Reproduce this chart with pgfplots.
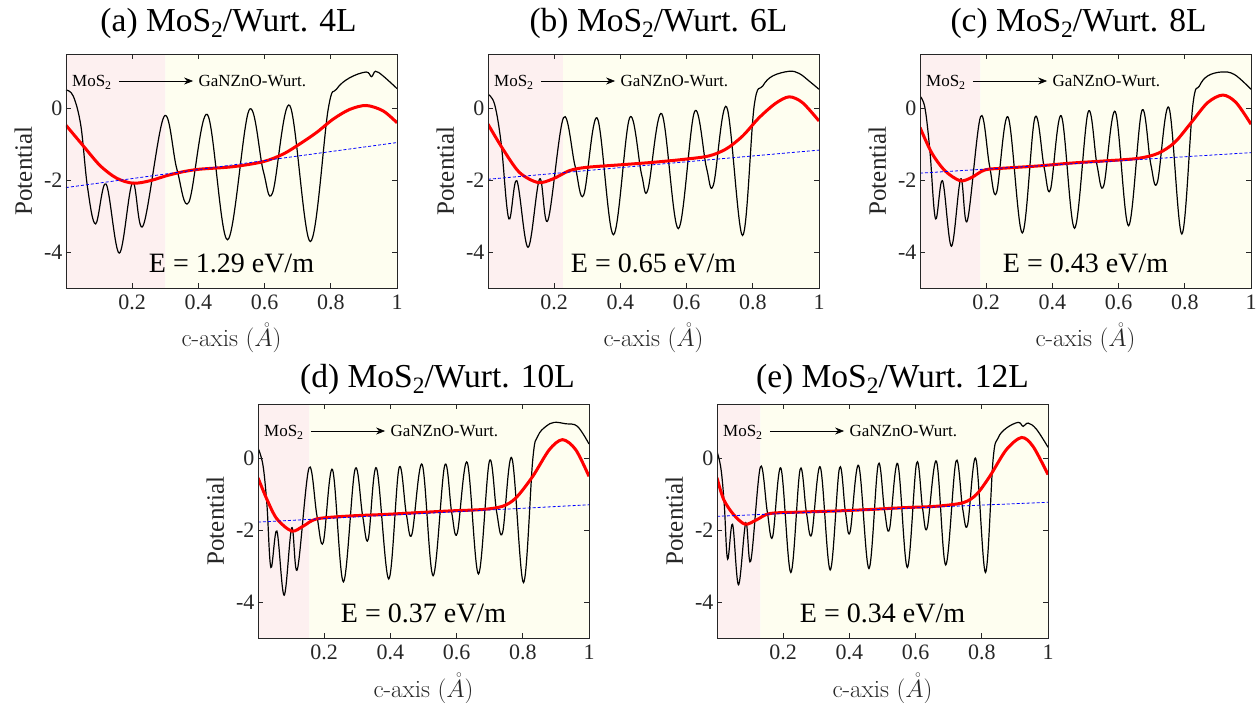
\documentclass[border=0pt]{standalone}
\usepackage{pgfplots}
\pgfplotsset{compat=1.18}
\usepackage{fontspec}
\usepackage{graphicx}
\usetikzlibrary{arrows.meta}
\newfontfamily\tnr{Liberation Serif}
\definecolor{bgpink}{RGB}{253,240,240}
\definecolor{bgyellow}{RGB}{254,254,240}
\definecolor{axgray}{RGB}{38,38,38}
\newcommand\sub[1]{\raisebox{-0.45ex}{\scalebox{0.7}{#1}}}

\pgfplotsset{
  panel/.style={
    scale only axis, width=331pt, height=234pt,
    xmin=0, xmax=1, ymin=-5, ymax=1.5,
    xtick={0.2,0.4,0.6,0.8,1}, ytick={-4,-2,0},
    axis on top,
    axis line style={axgray, line width=0.9pt},
    major tick style={axgray, line width=0.9pt},
    major tick length=5pt,
    /pgf/number format/assume math mode=true,
    ticklabel style={font=\tnr\fontsize{22}{24}\selectfont, text=axgray},
    xticklabel style={yshift=-3pt},
    xlabel={c-axis $(\mathring{A})$},
    xlabel style={font=\fontsize{25}{27}\selectfont, text=black!85,
      at={(axis description cs:0.5,0)}, anchor=base, yshift=-59pt},
    ylabel={Potential},
    ylabel style={font=\tnr\fontsize{25}{27}\selectfont, text=axgray,
      at={(axis description cs:-0.103,0.5)}, anchor=base},
    title style={font=\tnr\fontsize{33.5}{36}\selectfont, anchor=base,
      at={(axis description cs:0.5,1)}},
  },
  blk/.style={black, line width=1.2pt, smooth, tension=0.6},
  rd/.style={red, line width=3pt, smooth},
  bl/.style={blue, line width=0.8pt, dash pattern=on 3pt off 2pt},
}
\newcommand\annot{%
  \node[anchor=base west, font=\tnr\fontsize{17}{19}\selectfont, inner sep=0]
    at (axis cs:0.018,0.61) {MoS\sub{2}};
  \draw[-{Stealth[length=9pt,width=7pt]}, line width=0.7pt]
    (axis cs:0.16,0.75) -- (axis cs:0.384,0.75);
  \node[anchor=base west, font=\tnr\fontsize{17}{19}\selectfont, inner sep=0]
    at (axis cs:0.40,0.61) {GaNZnO-Wurt.};
}
\newcommand\efield[1]{%
  \node[anchor=base, font=\tnr\fontsize{28}{30}\selectfont]
    at (axis cs:0.5,-4.58) {#1};
}

\begin{document}
\begin{tikzpicture}
\useasboundingbox (0pt,0pt) rectangle (1258pt,702pt);

% (a) 4L
\begin{axis}[panel, at={(66pt,414pt)}, anchor=south west,
  title={(a) MoS\sub{2}/Wurt. 4L}, title style={yshift=17pt, xshift=-3pt}]
\addplot[draw=none, fill=bgpink] coordinates {(0,-5) (0.3,-5) (0.3,1.5) (0,1.5) (0,-5)};
\addplot[draw=none, fill=bgyellow] coordinates {(0.3,-5) (1,-5) (1,1.5) (0.3,1.5) (0.3,-5)};
\addplot[blk] coordinates {
(0,0.5) (0.022,0.33) (0.045,-0.5) (0.065,-2.2) (0.0895,-3.22) (0.121,-2.11)
(0.161,-4.03) (0.201,-2.07) (0.233,-3.27) (0.296,-0.24) (0.335,-1.7)
(0.371,-2.62) (0.427,-0.18) (0.488,-3.66) (0.553,-0.06) (0.596,-1.75)
(0.624,-2.36) (0.676,0.07) (0.738,-3.71) (0.792,-0.04) (0.817,0.52)
(0.857,0.84) (0.907,1.0) (0.923,0.87) (0.935,1.02) (0.958,0.89) (1,0.54)};
\addplot[rd] coordinates {
(0,-0.48) (0.052,-1.05) (0.103,-1.6) (0.153,-1.95) (0.203,-2.09) (0.254,-2.02)
(0.304,-1.88) (0.354,-1.77) (0.404,-1.70) (0.505,-1.63) (0.596,-1.49)
(0.656,-1.28) (0.706,-1.0) (0.757,-0.68) (0.807,-0.31) (0.857,-0.04)
(0.907,0.07) (0.958,-0.08) (1,-0.41)};
\addplot[bl] coordinates {(0,-2.21) (1,-0.96)};
\annot
\efield{E = 1.29 eV/m}
\end{axis}

% (b) 6L
\begin{axis}[panel, at={(488pt,414pt)}, anchor=south west,
  title={(b) MoS\sub{2}/Wurt. 6L}, title style={yshift=17pt, xshift=5pt}]
\addplot[draw=none, fill=bgpink] coordinates {(0,-5) (0.227,-5) (0.227,1.5) (0,1.5) (0,-5)};
\addplot[draw=none, fill=bgyellow] coordinates {(0.227,-5) (1,-5) (1,1.5) (0.227,1.5) (0.227,-5)};
\addplot[blk] coordinates {
(0,0.38) (0.02,0.1) (0.04,-1.0) (0.063,-3.08) (0.087,-2.02) (0.121,-3.87)
(0.156,-1.97) (0.181,-3.12) (0.228,-0.27) (0.263,-1.61) (0.289,-2.42)
(0.330,-0.28) (0.379,-3.52) (0.428,-0.27) (0.464,-1.85) (0.483,-2.27)
(0.525,-0.16) (0.575,-3.35) (0.624,-0.10) (0.66,-1.66) (0.681,-2.14)
(0.721,0.03) (0.769,-3.54) (0.804,0.05) (0.83,0.61) (0.86,0.89) (0.91,1.02)
(0.94,0.96) (0.97,0.75) (1,0.52)};
\addplot[rd] coordinates {
(0,-0.45) (0.045,-1.14) (0.095,-1.79) (0.151,-2.07) (0.196,-1.97) (0.246,-1.74)
(0.296,-1.65) (0.397,-1.58) (0.497,-1.51) (0.598,-1.42) (0.668,-1.33)
(0.719,-1.14) (0.769,-0.78) (0.819,-0.27) (0.869,0.13) (0.91,0.31)
(0.95,0.15) (1,-0.36)};
\addplot[bl] coordinates {(0,-1.98) (1,-1.17)};
\annot
\efield{E = 0.65 eV/m}
\end{axis}

% (c) 8L
\begin{axis}[panel, at={(920pt,414pt)}, anchor=south west,
  title={(c) MoS\sub{2}/Wurt. 8L}, title style={yshift=17pt, xshift=-7pt}]
\addplot[draw=none, fill=bgpink] coordinates {(0,-5) (0.182,-5) (0.182,1.5) (0,1.5) (0,-5)};
\addplot[draw=none, fill=bgyellow] coordinates {(0.182,-5) (1,-5) (1,1.5) (0.182,1.5) (0.182,-5)};
\addplot[blk] coordinates {
(0,0.33) (0.015,0.0) (0.03,-1.2) (0.047,-3.08) (0.068,-2.02) (0.095,-3.84)
(0.123,-1.97) (0.143,-3.13) (0.183,-0.24) (0.21,-1.6) (0.231,-2.36)
(0.266,-0.25) (0.309,-3.47) (0.347,-0.27) (0.375,-1.65) (0.394,-2.27)
(0.427,-0.22) (0.467,-3.34) (0.508,-0.11) (0.535,-1.6) (0.555,-2.16)
(0.59,-0.10) (0.63,-3.27) (0.670,-0.08) (0.697,-1.55) (0.717,-2.07)
(0.752,0.01) (0.791,-3.5) (0.824,0.06) (0.844,0.61) (0.869,0.89) (0.91,1.0)
(0.95,0.93) (1,0.52)};
\addplot[rd] coordinates {
(0,-0.54) (0.035,-1.24) (0.075,-1.74) (0.121,-2.02) (0.156,-1.93) (0.196,-1.72)
(0.256,-1.67) (0.357,-1.61) (0.457,-1.53) (0.558,-1.47) (0.658,-1.40)
(0.719,-1.26) (0.769,-0.96) (0.819,-0.41) (0.869,0.15) (0.915,0.36)
(0.955,0.15) (1,-0.45)};
\addplot[bl] coordinates {(0,-1.81) (1,-1.24)};
\annot
\efield{E = 0.43 eV/m}
\end{axis}

% (d) 10L
\begin{axis}[panel, at={(258pt,64pt)}, anchor=south west,
  title={(d) MoS\sub{2}/Wurt. 10L}, title style={yshift=11pt, xshift=14pt}]
\addplot[draw=none, fill=bgpink] coordinates {(0,-5) (0.155,-5) (0.155,1.5) (0,1.5) (0,-5)};
\addplot[draw=none, fill=bgyellow] coordinates {(0.155,-5) (1,-5) (1,1.5) (0.155,1.5) (0.155,-5)};
\addplot[blk] coordinates {
(0,0.28) (0.015,-0.2) (0.027,-1.3) (0.039,-3.04) (0.057,-2.03) (0.079,-3.81)
(0.102,-1.94) (0.119,-3.09) (0.154,-0.28) (0.178,-1.6) (0.197,-2.35)
(0.225,-0.32) (0.258,-3.44) (0.293,-0.32) (0.316,-1.6) (0.333,-2.26)
(0.358,-0.28) (0.395,-3.36) (0.426,-0.28) (0.448,-1.55) (0.465,-2.12)
(0.496,-0.18) (0.529,-3.27) (0.564,-0.21) (0.585,-1.5) (0.602,-2.09)
(0.632,-0.12) (0.666,-3.22) (0.699,-0.09) (0.721,-1.5) (0.739,-2.07)
(0.767,0) (0.802,-3.46) (0.83,-0.05) (0.845,0.6) (0.87,0.88) (0.895,0.99)
(0.93,0.95) (0.965,0.88) (1,0.39)};
\addplot[rd] coordinates {
(0,-0.55) (0.027,-1.15) (0.057,-1.69) (0.102,-2.03) (0.137,-1.89) (0.178,-1.69)
(0.278,-1.61) (0.378,-1.57) (0.478,-1.52) (0.579,-1.47) (0.679,-1.43)
(0.739,-1.34) (0.779,-1.11) (0.83,-0.51) (0.88,0.23) (0.92,0.51)
(0.96,0.23) (1,-0.51)};
\addplot[bl] coordinates {(0,-1.78) (1,-1.30)};
\annot
\efield{E = 0.37 eV/m}
\end{axis}

% (e) 12L
\begin{axis}[panel, at={(717pt,64pt)}, anchor=south west,
  title={(e) MoS\sub{2}/Wurt. 12L}, title style={yshift=11pt, xshift=10pt}]
\addplot[draw=none, fill=bgpink] coordinates {(0,-5) (0.131,-5) (0.131,1.5) (0,1.5) (0,-5)};
\addplot[draw=none, fill=bgyellow] coordinates {(0.131,-5) (1,-5) (1,1.5) (0.131,1.5) (0.131,-5)};
\addplot[blk] coordinates {
(0,0.18) (0.012,-0.3) (0.022,-1.3) (0.032,-2.81) (0.047,-1.84) (0.065,-3.52)
(0.087,-1.8) (0.102,-2.86) (0.131,-0.25) (0.152,-1.5) (0.168,-2.19)
(0.193,-0.28) (0.223,-3.18) (0.251,-0.32) (0.27,-1.5) (0.286,-2.12)
(0.312,-0.25) (0.342,-3.11) (0.37,-0.28) (0.388,-1.5) (0.402,-2.06)
(0.428,-0.21) (0.459,-3.07) (0.487,-0.18) (0.506,-1.45) (0.521,-1.98)
(0.546,-0.16) (0.575,-3.04) (0.603,-0.14) (0.621,-1.4) (0.635,-1.94)
(0.663,-0.09) (0.691,-2.97) (0.722,-0.09) (0.742,-1.4) (0.757,-1.86)
(0.782,-0.02) (0.811,-3.18) (0.834,-0.05) (0.849,0.55) (0.874,0.83)
(0.91,0.99) (0.925,0.88) (0.94,0.97) (0.965,0.8) (1,0.3)};
\addplot[rd] coordinates {
(0,-0.55) (0.02,-1.15) (0.05,-1.57) (0.085,-1.84) (0.121,-1.71) (0.161,-1.54)
(0.261,-1.50) (0.362,-1.47) (0.462,-1.43) (0.563,-1.38) (0.663,-1.34)
(0.744,-1.24) (0.784,-1.01) (0.824,-0.51) (0.874,0.23) (0.92,0.57)
(0.955,0.32) (1,-0.46)};
\addplot[bl] coordinates {(0,-1.62) (1,-1.23)};
\annot
\efield{E = 0.34 eV/m}
\end{axis}
\end{tikzpicture}
\end{document}
